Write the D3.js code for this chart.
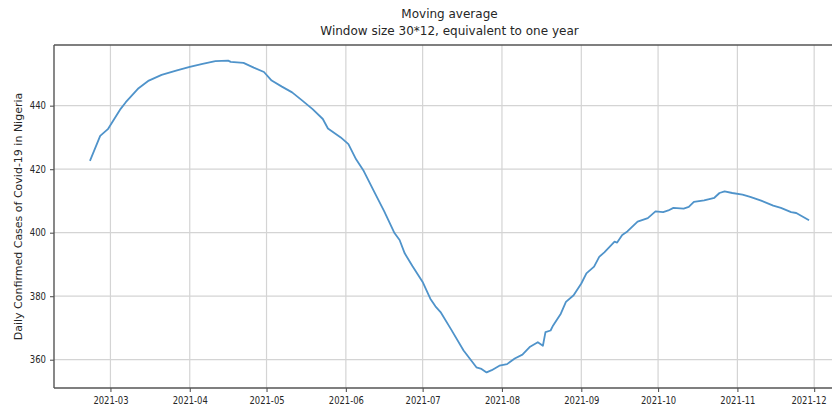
<!DOCTYPE html>
<html>
<head>
<meta charset="utf-8">
<script src="https://cdn.jsdelivr.net/npm/d3@7/dist/d3.min.js"></script>
<style>
  body { margin: 0; background: #fff; }
  text { font-family: "DejaVu Sans", sans-serif; fill: #262626; }
</style>
</head>
<body>
<svg id="chart" width="832" height="412"></svg>
<script>
// Moving-average series (daily confirmed cases, 30*12 window)
const dates = [
  "2021-02-21","2021-02-25","2021-02-28","2021-03-02","2021-03-05","2021-03-07",
  "2021-03-12","2021-03-16","2021-03-21","2021-03-27","2021-04-01","2021-04-06",
  "2021-04-11","2021-04-16","2021-04-17","2021-04-22","2021-04-26","2021-04-30",
  "2021-05-03","2021-05-07","2021-05-11","2021-05-15","2021-05-19","2021-05-23",
  "2021-05-25","2021-05-30","2021-06-02","2021-06-05","2021-06-08","2021-06-12",
  "2021-06-16","2021-06-20","2021-06-22","2021-06-24","2021-06-27","2021-07-01",
  "2021-07-04","2021-07-06","2021-07-08","2021-07-12","2021-07-17","2021-07-22",
  "2021-07-24","2021-07-26","2021-07-28","2021-07-31","2021-08-03","2021-08-06",
  "2021-08-09","2021-08-12","2021-08-15","2021-08-17","2021-08-18","2021-08-20",
  "2021-08-21","2021-08-24","2021-08-26","2021-08-29","2021-09-01","2021-09-03",
  "2021-09-06","2021-09-08","2021-09-10","2021-09-14","2021-09-15","2021-09-17",
  "2021-09-19","2021-09-23","2021-09-27","2021-09-30","2021-10-03","2021-10-05",
  "2021-10-07","2021-10-11","2021-10-13","2021-10-15","2021-10-19","2021-10-23",
  "2021-10-25","2021-10-27","2021-10-30","2021-11-03","2021-11-06","2021-11-10",
  "2021-11-15","2021-11-18","2021-11-22","2021-11-24","2021-11-29"
];
const values = [
  422.6, 430.5, 432.6, 435.2, 439.0, 441.1,
  445.5, 447.9, 449.7, 451.1, 452.2, 453.2,
  454.0, 454.2, 453.8, 453.5, 452.0, 450.6,
  447.9, 446.0, 444.2, 441.6, 438.9, 435.8,
  432.8, 430.0, 427.9, 423.1, 419.4, 413.0,
  406.7, 399.9, 397.7, 393.5, 389.5, 384.5,
  379.2, 376.8, 375.0, 369.7, 362.9, 357.6,
  357.1, 356.0, 356.7, 358.1, 358.6, 360.4,
  361.6, 364.1, 365.5, 364.4, 368.7, 369.2,
  370.8, 374.5, 378.2, 380.3, 384.0, 387.2,
  389.3, 392.4, 393.8, 397.2, 396.9, 399.3,
  400.4, 403.5, 404.6, 406.7, 406.5, 407.0,
  407.8, 407.6, 408.1, 409.7, 410.2, 411.0,
  412.5, 413.0, 412.5, 412.0, 411.3, 410.2,
  408.5, 407.8, 406.5, 406.2, 403.9
];
const yTicks = [360, 380, 400, 420, 440];
const xTickLabels = ["2021-03","2021-04","2021-05","2021-06","2021-07",
                     "2021-08","2021-09","2021-10","2021-11","2021-12"];
const titleLines = ["Moving average", "Window size 30*12, equivalent to one year"];
const yLabel = "Daily Confirmed Cases of Covid-19 in Nigeria";

const parse = d3.timeParse("%Y-%m-%d");
const parseMonth = d3.timeParse("%Y-%m");
const series = dates.map((d, i) => ({ date: parse(d), value: values[i] }));

const W = 832;
const plot = { left: 54, right: 845, top: 45, bottom: 388 };

// 5% padding around the data extent on both axes
const xExt = d3.extent(series, d => d.date);
const xPad = (xExt[1] - xExt[0]) * 0.05;
const x = d3.scaleTime()
  .domain([new Date(+xExt[0] - xPad), new Date(+xExt[1] + xPad)])
  .range([plot.left, plot.right]);

const yExt = d3.extent(series, d => d.value);
const yPad = (yExt[1] - yExt[0]) * 0.05;
const y = d3.scaleLinear()
  .domain([yExt[0] - yPad, yExt[1] + yPad])
  .range([plot.bottom, plot.top]);

const svg = d3.select("#chart");
const xTickDates = xTickLabels.map(parseMonth);

// grid
const grid = svg.append("g").attr("stroke", "#d4d4d4").attr("stroke-width", 1.2);
grid.selectAll("line.gx").data(xTickDates).join("line")
  .attr("x1", d => x(d)).attr("x2", d => x(d))
  .attr("y1", plot.top).attr("y2", plot.bottom);
grid.selectAll("line.gy").data(yTicks).join("line")
  .attr("x1", plot.left).attr("x2", plot.right)
  .attr("y1", d => y(d)).attr("y2", d => y(d));

// line
const line = d3.line().x(d => x(d.date)).y(d => y(d.value));
svg.append("path").datum(series)
  .attr("fill", "none")
  .attr("stroke", "#4f93ca")
  .attr("stroke-width", 1.8)
  .attr("stroke-linejoin", "round")
  .attr("d", line);

// axes
const xAxis = d3.axisBottom(x).tickValues(xTickDates)
  .tickFormat(d3.timeFormat("%Y-%m")).tickSize(4).tickPadding(5);
const gx = svg.append("g").attr("transform", `translate(0,${plot.bottom})`).call(xAxis);
const yAxis = d3.axisLeft(y).tickValues(yTicks).tickSize(4).tickPadding(4);
const gy = svg.append("g").attr("transform", `translate(${plot.left},0)`).call(yAxis);
[gx, gy].forEach(g => {
  g.select(".domain").remove();
  g.selectAll(".tick line").attr("stroke", "#555").attr("stroke-width", 1.1);
  g.selectAll(".tick text").attr("font-size", 10).attr("fill", "#333")
    .style("font-family", "'DejaVu Sans', sans-serif");
});
gx.selectAll(".tick text").each(function () {
  const w = this.getComputedTextLength();
  d3.select(this).attr("textLength", w * 0.84).attr("lengthAdjust", "spacingAndGlyphs");
});
// keep the last month label inside the frame
gx.selectAll(".tick text").filter((d, i, n) => i === n.length - 1)
  .attr("text-anchor", "end")
  .attr("x", d => (W - 6) - x(d));
gy.selectAll(".tick text").each(function () {
  const w = this.getComputedTextLength();
  d3.select(this).attr("textLength", w * 0.85).attr("lengthAdjust", "spacingAndGlyphs");
});

// spines
const spines = svg.append("g").attr("stroke", "#555").attr("stroke-width", 1.4).attr("fill", "none");
spines.append("line").attr("x1", plot.left).attr("x2", plot.right).attr("y1", plot.top).attr("y2", plot.top);
spines.append("line").attr("x1", plot.left).attr("x2", plot.right).attr("y1", plot.bottom).attr("y2", plot.bottom);
spines.append("line").attr("x1", plot.left).attr("x2", plot.left).attr("y1", plot.top).attr("y2", plot.bottom);
spines.append("line").attr("x1", plot.right).attr("x2", plot.right).attr("y1", plot.top).attr("y2", plot.bottom);

// titles
svg.selectAll("text.title").data(titleLines).join("text")
  .attr("class", "title")
  .attr("x", (plot.left + plot.right) / 2)
  .attr("y", (d, i) => 18 + i * 17)
  .attr("text-anchor", "middle")
  .attr("font-size", 12)
  .attr("fill", "#333")
  .text(d => d);

// y label
svg.append("text")
  .attr("transform", `translate(19,${(plot.top + plot.bottom) / 2}) rotate(-90)`)
  .attr("text-anchor", "middle")
  .attr("dominant-baseline", "middle")
  .attr("font-size", 11)
  .attr("fill", "#444")
  .text(yLabel);
</script>
</body>
</html>
